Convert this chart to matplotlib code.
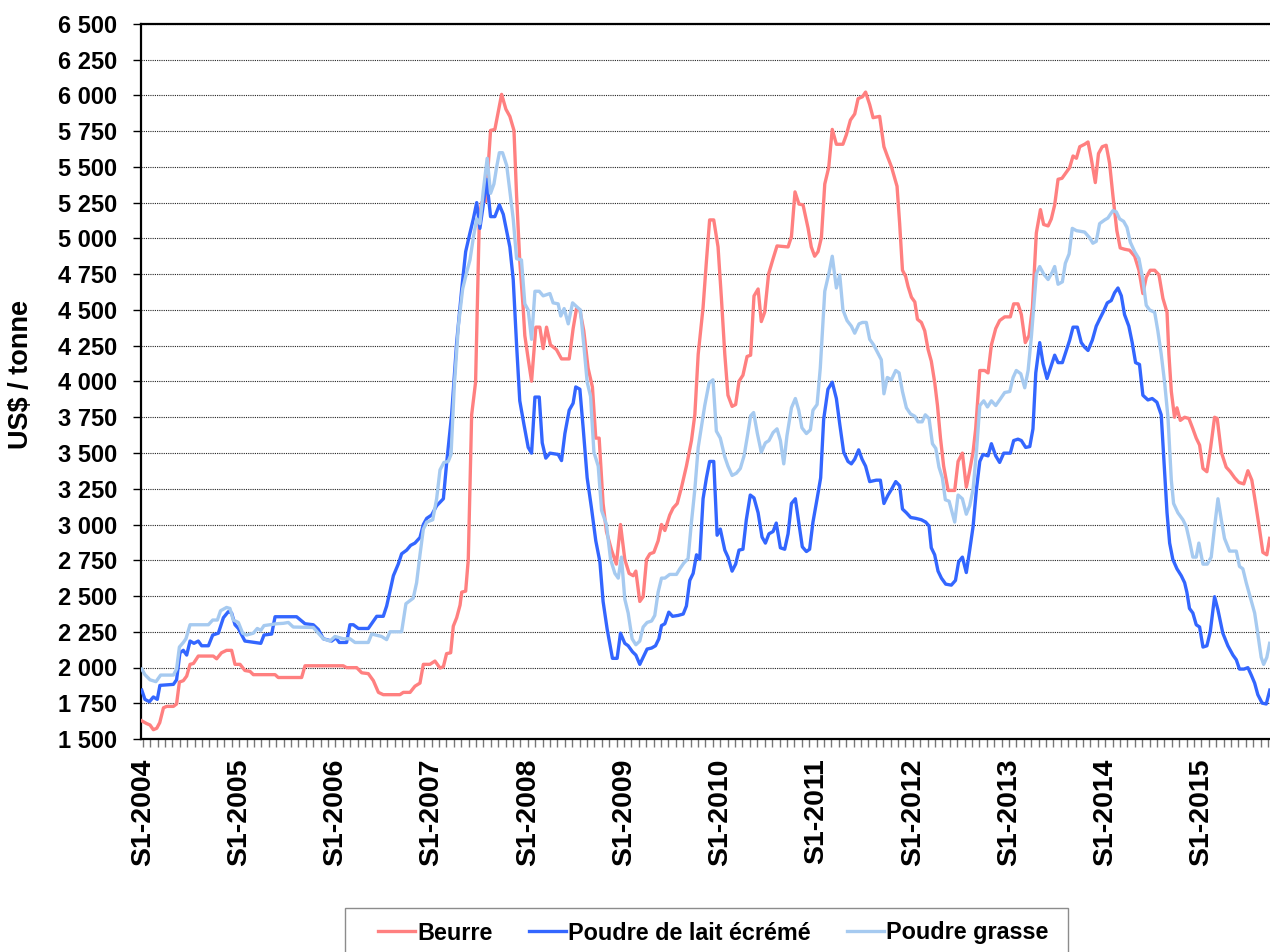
import numpy as np
import matplotlib
matplotlib.use("Agg")
from matplotlib import pyplot as plt
from matplotlib.patches import Rectangle

plt.rcParams['font.family'] = ['Liberation Sans', 'DejaVu Sans']
plt.rcParams['font.weight'] = 'bold'

# weekly prices, US$ / tonne (week index counted from S1-2004)
beurre_sem = [0, 3, 4.8, 6.6, 8.4, 10, 12, 13.7, 17.3, 19, 20.5, 22.6, 24.4, 26.2, 28, 30.6, 38.6, 40.4, 43, 45.7,
              48.4, 50.2, 52.9, 55.5, 58.2, 60, 71.6, 73.3, 85.8, 87.6, 108, 109.8, 115.2, 117.9, 121.4, 124.1,
              126.8, 129.4, 138.3, 140.1, 143.7, 146.3, 149, 150.8, 154.3, 157, 159.7, 161.5, 163.2, 165.4,
              166.8, 168.6, 170.4, 171.3, 173.4, 174.8, 176.6, 178.7, 180.7, 181.9, 184.2, 186.7, 189, 192.6,
              194.9, 197, 199.2, 200.6, 202.3, 204.1, 205, 206.8, 208.6, 210.9, 213, 214.8, 216.6, 218.7, 221.9,
              224.6, 228.7, 230.8, 232.6, 234.4, 236.5, 238.8, 241.1, 242.9, 244.7, 246.8, 248.6, 251.3, 253.9,
              256.1, 258.4, 260.7, 262.9, 264.3, 266.4, 268.2, 270, 271.8, 273.9, 276.2, 278, 279.8, 282.4,
              284.2, 286.4, 288.7, 291.3, 294, 295.8, 297.6, 300.2, 302, 303.7, 305.9, 308.2, 310, 311.8, 313.5,
              315.7, 317.6, 319.4, 321.5, 323.7, 325.6, 327.4, 329.6, 331.3, 333.1, 335.2, 337.6, 339.7, 345.6,
              347.4, 349.3, 351.4, 353.6, 356.3, 358, 359.8, 361.6, 363.4, 365.2, 367.3, 369.2, 371.4, 374.9,
              376.7, 378.9, 381.2, 383, 385.3, 387, 389.2, 391, 394.5, 396.8, 398.6, 400.8, 403.8, 405.2, 406.7,
              408.4, 409.7, 411.5, 413.3, 414.7, 416.8, 418.6, 420.4, 422.1, 423.9, 425.4, 427, 428.7, 431.1,
              434.6, 436.4, 438.7, 440.8, 442.6, 444.4, 445.8, 448, 450.6, 452.4, 454.2, 456.5, 458.6, 461.3,
              464.3, 466.1, 468.4, 470.2, 472.3, 474.3, 476.1, 478.2, 480.4, 482.1, 484.5, 486.2, 488, 489.8,
              491.9, 494.2, 496, 497.8, 499.6, 501.4, 504, 505.8, 507.5, 509.7, 511.4, 513.4, 515.5, 517.3,
              519.1, 521.2, 523, 525.3, 528, 530.7, 533, 535.1, 536.9, 539, 541.4, 543.7, 545.8, 548, 549,
              550.3, 552, 553.3, 555.1, 557.4, 559.7, 561.8, 563.6, 565.4, 567.2, 569.3, 571.3, 573.4, 574.8,
              577, 579.6, 581.8, 584.1, 586.4, 589, 591.2, 593.3, 595.3, 597.4, 599.2, 601.3, 602.8]
beurre = [1630, 1608, 1598, 1565, 1575, 1614, 1718, 1728, 1728, 1745, 1898, 1908, 1940, 2022, 2028, 2080, 2080,
          2061, 2103, 2120, 2120, 2022, 2022, 1979, 1973, 1950, 1950, 1930, 1930, 2012, 2012, 1999, 1999, 1963,
          1957, 1908, 1826, 1810, 1810, 1826, 1826, 1869, 1891, 2022, 2022, 2045, 1996, 2006, 2097, 2103, 2289,
          2348, 2436, 2527, 2534, 2756, 3767, 3995, 5137, 5251, 5261, 5756, 5763, 6008, 5904, 5854, 5756, 5300,
          4843, 4517, 4321, 4158, 4002, 4380, 4380, 4230, 4380, 4256, 4223, 4158, 4158, 4370, 4510, 4500, 4354,
          4093, 3962, 3604, 3604, 3147, 2951, 2821, 2723, 3000, 2756, 2658, 2642, 2674, 2462, 2495, 2756, 2795,
          2805, 2886, 3000, 2958, 3066, 3115, 3147, 3261, 3408, 3587, 3767, 4191, 4517, 4843, 5130, 5130, 4941,
          4582, 4191, 3904, 3826, 3839, 4002, 4044, 4175, 4184, 4598, 4647, 4419, 4484, 4752, 4859, 4948, 4941,
          5013, 5326, 5241, 5235, 5071, 4941, 4876, 4908, 5006, 5381, 5496, 5763, 5659, 5659, 5724, 5828, 5871,
          5978, 5991, 6024, 5936, 5845, 5854, 5642, 5577, 5502, 5365, 5104, 4778, 4735, 4664, 4589, 4556, 4435,
          4413, 4354, 4223, 4142, 3995, 3832, 3604, 3408, 3238, 3238, 3441, 3499, 3261, 3376, 3506, 3669, 4077,
          4077, 4060, 4256, 4370, 4426, 4452, 4452, 4543, 4543, 4468, 4272, 4321, 4517, 5039, 5202, 5098, 5088,
          5137, 5235, 5414, 5421, 5463, 5496, 5577, 5561, 5642, 5659, 5675, 5561, 5391, 5594, 5642, 5652, 5528,
          5300, 5055, 4934, 4925, 4918, 4876, 4778, 4615, 4729, 4778, 4778, 4745, 4582, 4484, 4191, 3930, 3750,
          3816, 3728, 3750, 3741, 3669, 3604, 3555, 3392, 3369, 3539, 3750, 3741, 3506, 3401, 3369, 3327, 3294,
          3284, 3376, 3310, 3147, 2968, 2805, 2788, 2903]

ecreme_sem = [0.4, 2.1, 4.5, 6.6, 8.7, 10.1, 17.3, 19, 20.8, 22.6, 24.4, 26.2, 28.3, 30.6, 32.4, 36, 38.3, 41.3,
              44, 46.6, 48.4, 50.2, 52, 55.5, 64, 65.7, 69.8, 71.6, 83.1, 87.6, 92, 94.7, 97.4, 101.8, 104.1,
              105.9, 109.8, 111.6, 113.4, 116.1, 121.4, 125.9, 129.4, 131.2, 133, 134.8, 137.4, 139.2, 141.9,
              144, 146.3, 149, 150.8, 152.6, 155.2, 157.9, 161.5, 163.2, 165.9, 168.6, 171.3, 173.4, 175.7,
              177.5, 179.3, 181, 182.8, 184.6, 186.7, 189, 191.4, 193.5, 197, 198.8, 200.6, 202.3, 204.5, 206.8,
              208.6, 210.4, 212.7, 214.3, 216.2, 218.4, 222.8, 224.6, 226.4, 228.7, 230.8, 232.2, 234.4, 236.2,
              238.3, 240.6, 242.9, 245.1, 246.8, 249, 251.8, 254.3, 256.1, 258.4, 260.2, 262.5, 264.3, 266.4,
              268.2, 270.3, 272.7, 274.8, 276.6, 278, 279.8, 281.9, 283.9, 286.9, 289.6, 291.3, 293.1, 294.9,
              296.7, 298.4, 300.2, 302, 303.7, 305.9, 307.7, 309.4, 311.8, 313.5, 315.7, 317.6, 319.4, 321.5,
              323.3, 325.4, 327.4, 329.6, 331.7, 333.5, 335.4, 337.6, 339.3, 341.5, 343.8, 345.6, 347.4, 349.5,
              351.3, 353.2, 355.4, 357.1, 358.9, 361.1, 363, 364.6, 366.9, 369.2, 371.4, 373.2, 375.3, 377.6,
              379.4, 381.2, 383.3, 385.1, 387, 389.2, 392.7, 394.9, 396.8, 399, 400.8, 403.1, 405.2, 406.7,
              408.8, 411.1, 413.8, 416.8, 419.1, 420.9, 422.1, 423.9, 425.7, 427.5, 429.8, 432.8, 435, 436.7,
              438.7, 440.8, 442.6, 444.4, 446.2, 448, 449.7, 452.4, 454.2, 456.5, 458.6, 460.8, 464.3, 466.1,
              468.4, 470.2, 472.5, 474.7, 476.4, 477.9, 480, 481.8, 483.9, 485.7, 488, 489.8, 492.1, 494.2, 496,
              497.8, 500.1, 502.2, 504, 505.8, 508.1, 510.2, 512, 514.1, 516.1, 518.2, 520, 521.8, 523.6, 525.3,
              527.6, 529.4, 531.2, 533.3, 535.1, 537.8, 540.1, 542.6, 544.9, 546.7, 548, 549.4, 551.1, 553.3,
              555.6, 557.4, 558.6, 560, 561.8, 563.6, 565.4, 567.2, 569.3, 571.1, 573.4, 575.2, 577.8, 580.5,
              583.2, 585, 586.7, 589.1, 591.2, 593, 594.8, 596.5, 598.8, 601, 602.9]
ecreme = [1842, 1777, 1761, 1794, 1777, 1875, 1882, 1914, 2103, 2120, 2087, 2185, 2169, 2185, 2152, 2152, 2227,
          2240, 2348, 2390, 2381, 2299, 2273, 2185, 2169, 2227, 2234, 2355, 2355, 2306, 2299, 2266, 2201, 2185,
          2208, 2175, 2175, 2299, 2299, 2273, 2273, 2358, 2358, 2430, 2534, 2642, 2723, 2795, 2821, 2854, 2870,
          2909, 3000, 3043, 3066, 3131, 3180, 3424, 3767, 4272, 4647, 4908, 5039, 5137, 5251, 5071, 5235, 5414,
          5153, 5153, 5235, 5169, 4941, 4713, 4256, 3865, 3702, 3539, 3499, 3891, 3891, 3571, 3464, 3499, 3490,
          3447, 3636, 3799, 3848, 3962, 3946, 3669, 3326, 3115, 2886, 2739, 2462, 2266, 2064, 2064, 2240, 2169,
          2152, 2110, 2087, 2022, 2071, 2129, 2136, 2152, 2201, 2293, 2306, 2387, 2358, 2364, 2374, 2430, 2609,
          2658, 2788, 2756, 3180, 3326, 3441, 3441, 2925, 2968, 2821, 2772, 2674, 2723, 2821, 2827, 3033, 3206,
          3186, 3082, 2912, 2870, 2935, 2951, 3010, 2837, 2827, 2935, 3147, 3180, 3017, 2844, 2811, 2827, 3017,
          3180, 3326, 3734, 3946, 3995, 3881, 3702, 3506, 3441, 3424, 3457, 3522, 3457, 3408, 3300, 3310, 3310,
          3147, 3206, 3245, 3300, 3271, 3108, 3082, 3049, 3043, 3033, 3017, 2990, 2837, 2788, 2674, 2625, 2583,
          2576, 2609, 2739, 2772, 2664, 2821, 2984, 3245, 3441, 3490, 3480, 3565, 3480, 3434, 3499, 3499, 3587,
          3597, 3587, 3539, 3545, 3669, 4060, 4272, 4126, 4021, 4093, 4184, 4132, 4132, 4217, 4289, 4380, 4380,
          4272, 4240, 4217, 4289, 4387, 4436, 4491, 4550, 4566, 4621, 4654, 4599, 4468, 4387, 4272, 4132, 4119,
          3904, 3871, 3881, 3855, 3767, 3376, 3082, 2870, 2756, 2690, 2642, 2593, 2527, 2413, 2381, 2299, 2283,
          2143, 2152, 2250, 2495, 2403, 2240, 2152, 2087, 2054, 1989, 1989, 1999, 1947, 1891, 1810, 1751, 1745,
          1842]

grasse_sem = [0.4, 2.1, 4.8, 8, 10.5, 17.3, 19, 20.5, 22.6, 24, 26.2, 36, 38.3, 40.8, 42.5, 45.7, 47.5, 49.3, 52,
              54.3, 56.4, 60, 62.1, 64, 65.7, 72.4, 76, 78.7, 81.3, 92, 94.7, 97.4, 100.9, 103.6, 108.1, 111.6,
              114.3, 121.4, 123.2, 128.5, 131.2, 133, 139.2, 141.5, 145.4, 147.2, 149, 150.8, 152.6, 155.8, 157.9,
              159.7, 161.8, 164.1, 165.6, 167.3, 169.5, 171.8, 173.9, 175.7, 177.5, 179.3, 181, 182.8, 184.9,
              186.7, 188.5, 189.9, 191.4, 193.1, 195.3, 197, 198.8, 200.6, 203.2, 205, 206.8, 208.6, 210.4, 212.7,
              214.8, 218.4, 220.1, 222.8, 224.2, 226, 228.2, 230.5, 232.6, 234.7, 236.5, 238.3, 240.1, 241.9,
              244.2, 246, 248.6, 250.8, 253.1, 254.9, 256.6, 258.4, 260.2, 262.3, 264.3, 266.4, 268.2, 270.3,
              272.7, 274.4, 276.2, 278, 279.8, 282.4, 286, 287.8, 289.9, 292.2, 294, 295.8, 297.6, 301.1, 303.4,
              305.5, 307.3, 309.4, 311.8, 313.5, 315.7, 318, 320.1, 322.1, 323.9, 325.6, 327.2, 329.2, 331.3,
              333.5, 335.4, 337.6, 339.7, 341.5, 343.3, 345, 347.4, 349.5, 351.3, 353, 355.4, 357.5, 358.9, 361.1,
              362.8, 365.2, 367.5, 369.2, 371.4, 373.2, 374.9, 377.1, 379.4, 381.2, 383.5, 385.3, 387.4, 389.2,
              391.3, 393.6, 395.4, 396.8, 398.6, 400.8, 403.1, 404.9, 406.7, 408.8, 411, 413.3, 415, 417.2, 418.9,
              420.9, 422.7, 424.5, 426.2, 428, 429.6, 431.6, 434.6, 436.4, 438.7, 440.8, 442.6, 444.4, 446.2, 448,
              450.1, 452.1, 454.2, 456.5, 458.6, 461.3, 464, 465.8, 467.5, 469.9, 472, 473.8, 475.6, 478.2, 480,
              482.1, 484.5, 486.6, 488, 489.8, 492.1, 493.7, 495.7, 497.4, 499.6, 504, 506.6, 508.4, 510.2, 512,
              514.7, 516.4, 519.1, 520.9, 522.7, 524.8, 526.6, 528.4, 530.7, 533, 535.1, 536.9, 538.7, 541.4,
              543.1, 544.9, 546.7, 548.5, 550.3, 551.5, 553.8, 556.5, 558.3, 560, 561.8, 563.6, 565, 567.2, 569.5,
              571.6, 573.4, 575.2, 577, 578.7, 581.4, 585, 586.7, 588.5, 590.3, 592.4, 594.8, 596.5, 598.3, 599.6,
              601.3, 602.8]
grasse = [1989, 1950, 1914, 1901, 1947, 1947, 1989, 2143, 2175, 2201, 2299, 2299, 2332, 2332, 2397, 2420, 2413,
          2332, 2315, 2240, 2227, 2240, 2273, 2260, 2293, 2306, 2309, 2315, 2283, 2280, 2240, 2201, 2185, 2217,
          2201, 2201, 2175, 2175, 2234, 2217, 2195, 2250, 2250, 2446, 2485, 2593, 2788, 2968, 3017, 3033, 3180,
          3382, 3434, 3441, 3490, 3962, 4387, 4647, 4762, 4850, 5006, 5137, 5104, 5333, 5561, 5316, 5381, 5496,
          5600, 5600, 5512, 5333, 5137, 4859, 4850, 4543, 4500, 4295, 4631, 4631, 4599, 4615, 4550, 4543, 4458,
          4510, 4403, 4550, 4524, 4500, 4256, 3995, 3897, 3506, 3408, 3098, 3000, 2756, 2658, 2625, 2772, 2478,
          2381, 2201, 2159, 2185, 2283, 2315, 2325, 2364, 2527, 2625, 2625, 2651, 2651, 2690, 2730, 2762, 3017,
          3245, 3539, 3832, 3989, 4012, 3653, 3604, 3473, 3408, 3343, 3359, 3392, 3480, 3620, 3760, 3783, 3636,
          3506, 3571, 3587, 3643, 3669, 3587, 3424, 3620, 3816, 3881, 3799, 3676, 3636, 3662, 3799, 3839, 4093,
          4631, 4762, 4876, 4654, 4745, 4500, 4426, 4387, 4338, 4403, 4413, 4413, 4295, 4256, 4197, 4152, 3914,
          4028, 4012, 4077, 4060, 3930, 3816, 3773, 3757, 3718, 3718, 3767, 3741, 3565, 3532, 3401, 3327, 3173,
          3163, 3017, 3206, 3180, 3072, 3131, 3245, 3506, 3832, 3865, 3822, 3865, 3832, 3871, 3923, 3930, 4028,
          4077, 4054, 3956, 4077, 4321, 4752, 4804, 4752, 4713, 4762, 4804, 4680, 4697, 4827, 4892, 5071, 5055,
          5045, 5006, 4967, 4980, 5104, 5130, 5143, 5195, 5186, 5137, 5120, 5078, 4974, 4908, 4859, 4713, 4533,
          4500, 4484, 4354, 4191, 3995, 3750, 3310, 3147, 3082, 3033, 2984, 2886, 2772, 2772, 2870, 2723, 2723,
          2772, 2984, 3180, 3033, 2903, 2814, 2814, 2707, 2690, 2593, 2495, 2381, 2234, 2071, 2022, 2071, 2169]

annees = ['S1-2004', 'S1-2005', 'S1-2006', 'S1-2007', 'S1-2008', 'S1-2009', 'S1-2010', 'S1-2011', 'S1-2012',
          'S1-2013', 'S1-2014', 'S1-2015']

fig = plt.figure(figsize=(12.7, 9.52), dpi=100)
ax = fig.add_axes([141 / 1270, 213 / 952, 1129 / 1270, 715 / 952])

ax.plot(beurre_sem, beurre, color='#FF8080', lw=2.4, label='Beurre', zorder=3)
ax.plot(ecreme_sem, ecreme, color='#3366FF', lw=2.4, label='Poudre de lait écrémé', zorder=4)
ax.plot(grasse_sem, grasse, color='#A6CAF0', lw=2.4, label='Poudre grasse', zorder=5)

ax.set_xlim(0, 603)
ax.set_ylim(1500, 6500)

yt = np.arange(1500, 6501, 250)
ax.set_yticks(yt)
ax.set_yticklabels([f'{v:,}'.replace(',', ' ') for v in yt], fontsize=17, fontweight='bold')
ax.yaxis.grid(True, linestyle=(0, (1, 1)), color='#222222', lw=0.8)
ax.set_axisbelow(True)

xt = 1 + 51.4 * np.arange(len(annees))
ax.set_xticks(xt)
ax.set_xticklabels(annees, rotation=90, fontsize=20.5, fontweight='bold', va='top')
ax.set_xticks(np.arange(1, 603, 51.4 / 13), minor=True)
ax.tick_params(axis='x', which='both', length=6, width=1, color='#777777', pad=8)
ax.tick_params(axis='y', length=6, width=1, color='black', pad=11)

for s in ['left', 'top', 'bottom']:
    ax.spines[s].set_linewidth(1.6)
    ax.spines[s].set_color('black')
ax.spines['right'].set_visible(False)

fig.text(20.7 / 1270, 1 - 375 / 952, 'US$ / tonne', rotation=90, ha='center', va='center',
         fontsize=19.5, fontweight='bold')

fig.legend(loc='center left', bbox_to_anchor=(378 / 1270, 1 - 933 / 952), ncol=3, frameon=False,
           handlelength=1.6, handletextpad=0.08, columnspacing=1.55, borderpad=0,
           borderaxespad=0, prop={'weight': 'bold', 'size': 16.8})
fig.patches.append(Rectangle((345 / 1270, -0.1), 723 / 1270, 0.1 + 1 - 908 / 952, transform=fig.transFigure,
                             fill=False, edgecolor='#8c8c8c', lw=1))

fig.savefig('out.png', dpi=100)
